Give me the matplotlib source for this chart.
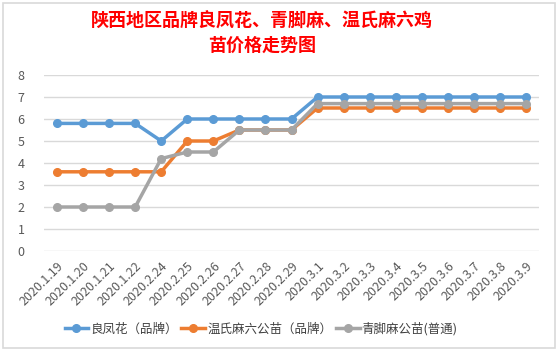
import matplotlib
matplotlib.use("Agg")
from matplotlib import pyplot as plt
from matplotlib.patches import Rectangle

plt.rcParams['font.family'] = ['Noto Sans CJK SC', 'DejaVu Sans']

dates = ["2020.1.19", "2020.1.20", "2020.1.21", "2020.1.22", "2020.2.24", "2020.2.25",
         "2020.2.26", "2020.2.27", "2020.2.28", "2020.2.29", "2020.3.1", "2020.3.2",
         "2020.3.3", "2020.3.4", "2020.3.5", "2020.3.6", "2020.3.7", "2020.3.8", "2020.3.9"]
liangfenghua = [5.8, 5.8, 5.8, 5.8, 5.0, 6.0, 6.0, 6.0, 6.0, 6.0,
                7.0, 7.0, 7.0, 7.0, 7.0, 7.0, 7.0, 7.0, 7.0]
wenshi = [3.6, 3.6, 3.6, 3.6, 3.6, 5.0, 5.0, 5.5, 5.5, 5.5,
          6.5, 6.5, 6.5, 6.5, 6.5, 6.5, 6.5, 6.5, 6.5]
qingjiao = [2.0, 2.0, 2.0, 2.0, 4.2, 4.5, 4.5, 5.5, 5.5, 5.5,
            6.7, 6.7, 6.7, 6.7, 6.7, 6.7, 6.7, 6.7, 6.7]
names = ["良凤花（品牌）", "温氏麻六公苗（品牌）", "青脚麻公苗(普通)"]
colors = ["#5B9BD5", "#ED7D31", "#A5A5A5"]

fig = plt.figure(figsize=(5.58, 3.51), dpi=100)
# chart border like the excel chart area
fig.patches.append(Rectangle((2.5 / 558, 3.5 / 351), 552 / 558, 345 / 351,
                             transform=fig.transFigure, fill=False,
                             edgecolor="#D9D9D9", linewidth=1.2))

ax = fig.add_axes([44 / 558, 1 - 251 / 351, 495 / 558, 176 / 351])
x = range(len(dates))
for vals, name, c in zip([liangfenghua, wenshi, qingjiao], names, colors):
    ax.plot(x, vals, color=c, linewidth=2.5, marker="o", markersize=5.5, label=name)

ax.set_ylim(0, 8)
ax.set_xlim(-0.5, len(dates) - 0.5)
ax.set_yticks(range(0, 9))
ax.yaxis.grid(True, color="#D9D9D9", linewidth=1)
ax.set_axisbelow(True)
for s in ax.spines.values():
    s.set_visible(False)
ax.tick_params(length=0, colors="#595959", labelsize=9)
ax.tick_params(axis="y", pad=14)
ax.set_xticks(list(x))
ax.set_xticklabels(dates, rotation=45, ha="right", va="top", rotation_mode="anchor")
ax.tick_params(axis="x", pad=6)

fig.text(262 / 558, 1 - 21 / 351, "陕西地区品牌良凤花、青脚麻、温氏麻六鸡", color="red",
         fontsize=13, fontweight="bold", ha="center", va="center")
fig.text(262 / 558, 1 - 45 / 351, "苗价格走势图", color="red",
         fontsize=13, fontweight="bold", ha="center", va="center")

fig.legend(loc="center", bbox_to_anchor=(261 / 558, 1 - 329 / 351), ncol=3, frameon=False,
           fontsize=9, labelcolor="#404040", handlelength=1.9, columnspacing=0.3,
           handletextpad=0.15)

fig.savefig("out.png", dpi=100)
